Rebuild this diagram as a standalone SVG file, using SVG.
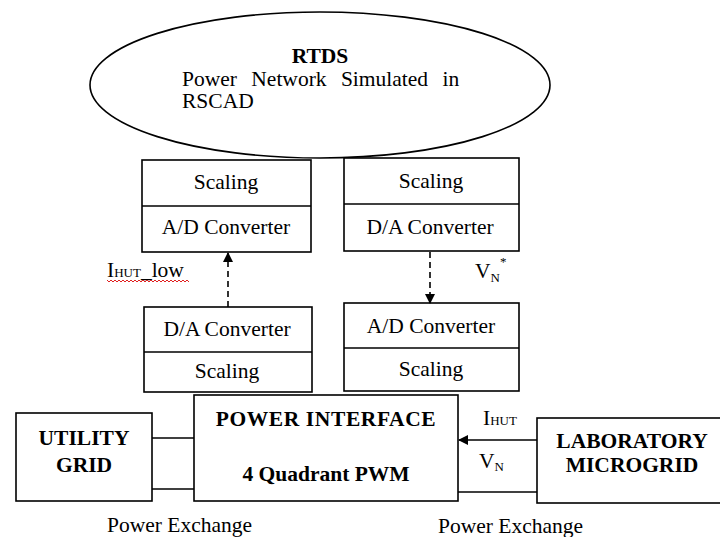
<svg xmlns="http://www.w3.org/2000/svg" width="720" height="537" viewBox="0 0 720 537">
<style>
  .box { fill: #fff; stroke: #000; stroke-width: 1.6; }
  .ln { fill: none; stroke: #000; stroke-width: 1.6; }
  .dash { fill: none; stroke: #000; stroke-width: 1.6; stroke-dasharray: 6 4; }
  text { font-family: "Liberation Serif", "Times New Roman", serif; font-size: 21.5px; fill: #000; }
  .c { text-anchor: middle; }
  .b { font-weight: bold; }
  .sub { font-size: 13px; }
</style>
<defs>
  <marker id="ah" markerWidth="10" markerHeight="10" refX="9" refY="5" orient="auto" markerUnits="userSpaceOnUse">
    <path d="M0,0 L10,5 L0,10 Z" fill="#000"/>
  </marker>
</defs>

<g id="rtds">
  <ellipse class="box" cx="320" cy="85" rx="230" ry="73"/>
  <text class="c b" x="320" y="63">RTDS</text>
  <text x="182" y="86" word-spacing="9">Power Network Simulated in</text>
  <text x="182" y="108">RSCAD</text>
</g>

<g id="top-left">
  <rect class="box" x="142" y="160" width="169" height="92"/>
  <line class="ln" x1="142" y1="206" x2="311" y2="206"/>
  <text class="c" x="226" y="189">Scaling</text>
  <text class="c" x="226" y="234">A/D Converter</text>
</g>

<g id="top-right">
  <rect class="box" x="344" y="158" width="175" height="93"/>
  <line class="ln" x1="344" y1="204" x2="519" y2="204"/>
  <text class="c" x="431" y="188">Scaling</text>
  <text class="c" x="430" y="234">D/A Converter</text>
</g>

<g id="bottom-left">
  <rect class="box" x="144" y="307" width="168" height="85"/>
  <line class="ln" x1="144" y1="352" x2="312" y2="352"/>
  <text class="c" x="227" y="336">D/A Converter</text>
  <text class="c" x="227" y="378">Scaling</text>
</g>

<g id="bottom-right">
  <rect class="box" x="344" y="303" width="175" height="88"/>
  <line class="ln" x1="344" y1="348" x2="519" y2="348"/>
  <text class="c" x="431" y="333">A/D Converter</text>
  <text class="c" x="431" y="376">Scaling</text>
</g>

<g id="utility-grid">
  <rect class="box" x="16" y="413" width="136" height="88"/>
  <text class="c b" x="84" y="445">UTILITY</text>
  <text class="c b" x="84" y="472">GRID</text>
</g>

<g id="power-interface">
  <rect class="box" x="194" y="395" width="264" height="106"/>
  <text class="c b" x="326" y="426" letter-spacing="0.6">POWER INTERFACE</text>
  <text class="c b" x="326" y="481">4 Quadrant PWM</text>
</g>

<g id="lab-microgrid">
  <rect class="box" x="537" y="418" width="186" height="85"/>
  <text class="c b" x="632" y="448">LABORATORY</text>
  <text class="c b" x="632" y="472">MICROGRID</text>
</g>

<g id="connectors">
  <line class="dash" x1="228" y1="307" x2="228" y2="253" marker-end="url(#ah)"/>
  <line class="dash" x1="430" y1="252" x2="430" y2="303" marker-end="url(#ah)"/>
  <line class="ln" x1="152" y1="438" x2="194" y2="438"/>
  <line class="ln" x1="152" y1="489" x2="194" y2="489"/>
  <line class="ln" x1="537" y1="440" x2="459" y2="440" marker-end="url(#ah)"/>
  <line class="ln" x1="458" y1="492" x2="537" y2="492"/>
</g>

<g id="labels">
  <text x="107" y="277">I<tspan class="sub">HUT</tspan>_low</text>
  <polyline fill="none" stroke="#e02020" stroke-width="1" points="107,280 109,282 111,280 113,282 115,280 117,282 119,280 121,282 123,280 125,282 127,280 129,282 131,280 133,282 135,280 137,282 139,280 141,282 143,280 145,282 147,280 149,282 151,280 153,282 155,280 157,282 159,280 161,282 163,280 165,282 167,280 169,282 171,280 173,282 175,280 177,282 179,280 181,282 183,280 185,282 187,280 189,282"/>
  <text x="475" y="278">V<tspan class="sub" dy="4">N</tspan><tspan class="sub" dy="-16">*</tspan></text>
  <text x="483" y="425">I<tspan class="sub">HUT</tspan></text>
  <text x="479" y="468">V<tspan class="sub" dy="3">N</tspan></text>
  <text x="107" y="532">Power Exchange</text>
  <text x="438" y="533">Power Exchange</text>
</g>
</svg>
